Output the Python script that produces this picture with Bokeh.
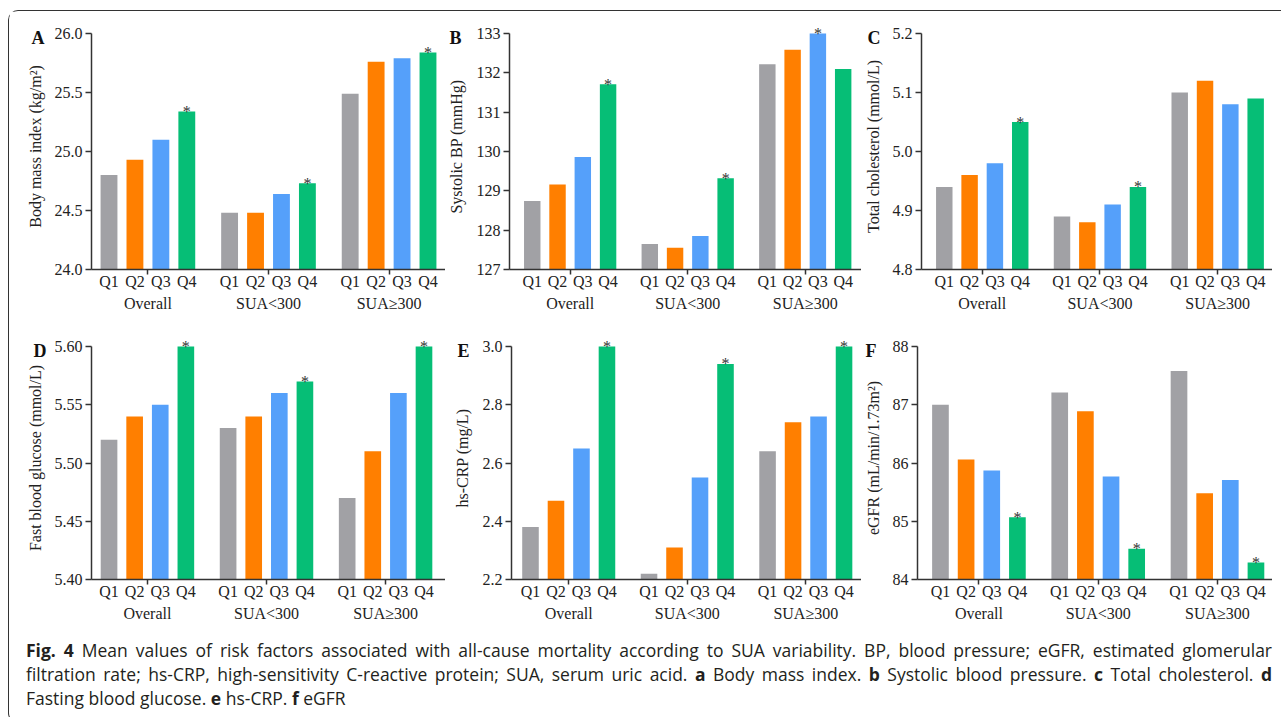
from bokeh.plotting import figure
from bokeh.layouts import column, row
from bokeh.models import (Range1d, FixedTicker, LinearAxis, LabelSet,
                          ColumnDataSource, NumeralTickFormatter, Div)
from bokeh.embed import file_html
from bokeh.resources import INLINE

# ---------------- data ----------------
groups = ["Overall", "SUA<300", "SUA\u2265300"]
quartiles = ["Q1", "Q2", "Q3", "Q4"]
colors = ["#A1A1A5", "#FF7F00", "#55A0FA", "#06BE76"]

# values in order: Overall Q1..Q4, SUA<300 Q1..Q4, SUA>=300 Q1..Q4
bmi = [24.80, 24.93, 25.10, 25.34, 24.48, 24.48, 24.64, 24.73, 25.49, 25.76, 25.79, 25.84]
sbp = [128.74, 129.16, 129.86, 131.71, 127.65, 127.55, 127.85, 129.32, 132.22, 132.59, 133.00, 132.10]
tc = [4.94, 4.96, 4.98, 5.05, 4.89, 4.88, 4.91, 4.94, 5.10, 5.12, 5.08, 5.09]
fbg = [5.52, 5.54, 5.55, 5.60, 5.53, 5.54, 5.56, 5.57, 5.47, 5.51, 5.56, 5.60]
crp = [2.38, 2.47, 2.65, 3.00, 2.22, 2.31, 2.55, 2.94, 2.64, 2.74, 2.76, 3.00]
egfr = [87.00, 86.06, 85.87, 85.07, 87.21, 86.89, 85.77, 84.53, 87.58, 85.48, 85.71, 84.29]

# significance markers (1 = asterisk)
bmi_star = [0, 0, 0, 1, 0, 0, 0, 1, 0, 0, 0, 1]
sbp_star = [0, 0, 0, 1, 0, 0, 0, 1, 0, 0, 1, 0]
tc_star = [0, 0, 0, 1, 0, 0, 0, 1, 0, 0, 0, 0]
fbg_star = [0, 0, 0, 1, 0, 0, 0, 1, 0, 0, 0, 1]
crp_star = [0, 0, 0, 1, 0, 0, 0, 1, 0, 0, 0, 1]
egfr_star = [0, 0, 0, 1, 0, 0, 0, 1, 0, 0, 0, 1]

bmi_ticks = [24.0, 24.5, 25.0, 25.5, 26.0]
sbp_ticks = [127, 128, 129, 130, 131, 132, 133]
tc_ticks = [4.8, 4.9, 5.0, 5.1, 5.2]
fbg_ticks = [5.40, 5.45, 5.50, 5.55, 5.60]
crp_ticks = [2.2, 2.4, 2.6, 2.8, 3.0]
egfr_ticks = [84, 85, 86, 87, 88]

# ---------------- layout helpers ----------------
SERIF = "Liberation Serif"
INK = "#222222"
AXC = "#333333"
PITCH = 20      # distance between bars in a group (x units)
STRIDE = 93     # distance between groups (x units)
BAR_W = 13
HEAD = 10       # px of headroom above the top tick (for asterisks)

xs = [g * STRIDE + q * PITCH for g in range(len(groups)) for q in range(len(quartiles))]
qlabels = [quartiles[q] for g in range(len(groups)) for q in range(len(quartiles))]
bar_colors = [colors[q] for g in range(len(groups)) for q in range(len(quartiles))]
centres = [g * STRIDE + 1.5 * PITCH for g in range(len(groups))]


def panel(letter, ylabel, vals, stars, ticks, fmt, width, height, mbl, mbt, mbb,
          frame_h, xr, letter_gap, letter_w):
    y0, y1 = ticks[0], ticks[-1]
    span_px = frame_h - HEAD
    y_top = y1 + (y1 - y0) * HEAD / span_px
    p = figure(width=width, height=height, output_backend="svg", toolbar_location=None,
               x_range=Range1d(xr[0], xr[1]), y_range=Range1d(y0, y_top),
               min_border_left=mbl, min_border_right=0, min_border_top=mbt,
               min_border_bottom=mbb, background_fill_color="white",
               border_fill_color="white")
    p.outline_line_color = None
    p.grid.visible = False

    src = ColumnDataSource(dict(x=xs, top=vals, color=bar_colors))
    p.vbar(x="x", top="top", bottom=y0, width=BAR_W, color="color", source=src,
           line_color=None)

    sx = [x for x, s in zip(xs, stars) if s]
    sy = [v for v, s in zip(vals, stars) if s]
    ssrc = ColumnDataSource(dict(x=sx, y=sy, t=["*"] * len(sx)))
    p.add_layout(LabelSet(x="x", y="y", text="t", source=ssrc, text_align="center",
                          text_baseline="middle", text_font=SERIF,
                          text_font_size="16px", text_color="#333333"))

    # main y axis: ticks and numbers
    ya = p.yaxis[0]
    ya.bounds = (y0, y1)
    ya.ticker = FixedTicker(ticks=ticks)
    ya.formatter = NumeralTickFormatter(format=fmt)
    ya.major_label_text_font = SERIF
    ya.major_label_text_font_size = "16px"
    ya.major_label_text_color = INK
    ya.major_label_standoff = 3
    ya.major_tick_out = 6
    ya.major_tick_in = 0
    ya.minor_tick_line_color = None
    ya.axis_line_color = AXC
    ya.axis_line_width = 1.5
    ya.major_tick_line_color = AXC
    ya.major_tick_line_width = 1.5

    # outer left axis: panel letter (as the one tick label) and the axis title
    y_letter = y1 - (y1 - y0) * 4 / span_px
    la = LinearAxis(ticker=FixedTicker(ticks=[y_letter]),
                    major_label_overrides={y_letter: letter})
    la.axis_line_color = None
    la.major_tick_line_color = None
    la.minor_tick_line_color = None
    la.major_tick_out = 0
    la.major_tick_in = 0
    la.minor_tick_out = 0
    la.major_label_standoff = letter_gap
    la.major_label_text_font = SERIF
    la.major_label_text_font_style = "bold"
    la.major_label_text_font_size = "18px"
    la.major_label_text_color = "#111111"
    la.axis_label = ylabel
    la.axis_label_text_font = SERIF
    la.axis_label_text_font_style = "normal"
    la.axis_label_text_font_size = "16px"
    la.axis_label_text_color = INK
    la.axis_label_standoff = 5 - letter_gap - letter_w
    p.add_layout(la, "left")

    # x axis: quartile labels with group ticks
    xa = p.xaxis[0]
    xa.ticker = FixedTicker(ticks=xs, minor_ticks=centres)
    xa.major_label_overrides = {x: q for x, q in zip(xs, qlabels)}
    xa.major_tick_out = 0
    xa.major_tick_in = 0
    xa.major_tick_line_color = None
    xa.minor_tick_out = 5
    xa.minor_tick_in = 0
    xa.minor_tick_line_color = AXC
    xa.minor_tick_line_width = 1.5
    xa.axis_line_color = AXC
    xa.axis_line_width = 1.5
    xa.major_label_standoff = -2
    xa.major_label_text_font = SERIF
    xa.major_label_text_font_size = "16px"
    xa.major_label_text_color = INK

    # group names axis
    ga = LinearAxis(ticker=FixedTicker(ticks=centres),
                    major_label_overrides={c: g for c, g in zip(centres, groups)})
    ga.axis_line_color = None
    ga.major_tick_line_color = None
    ga.minor_tick_line_color = None
    ga.major_tick_out = 0
    ga.major_tick_in = 0
    ga.minor_tick_out = 0
    ga.major_label_standoff = 2
    ga.major_label_text_font = SERIF
    ga.major_label_text_font_size = "16px"
    ga.major_label_text_color = INK
    p.add_layout(ga, "below")
    return p


H1, H2 = 311, 305
F1, F2 = 246, 243
pa = panel("A", "Body mass index (kg/m\u00b2)", bmi, bmi_star, bmi_ticks, "0.0",
           436, H1, 82, 12, H1 - 12 - F1, F1, (-13.5, 259.5), 7, 13)
pb = panel("B", "Systolic BP (mmHg)", sbp, sbp_star, sbp_ticks, "0",
           416, H1, 60, 12, H1 - 12 - F1, F1, (-18.0, 260.5), 12, 12)
pc = panel("C", "Total cholesterol (mmol/L)", tc, tc_star, tc_ticks, "0.0",
           411, H1, 56, 12, H1 - 12 - F1, F1, (-18.0, 259.3), 9, 13)
pd = panel("D", "Fast blood glucose (mmol/L)", fbg, fbg_star, fbg_ticks, "0.00",
           436, H2, 82, 14, H2 - 14 - F2, F2, (-13.7, 262.8), 5, 13)
pe = panel("E", "hs-CRP (mg/L)", crp, crp_star, crp_ticks, "0.0",
           416, H2, 66, 14, H2 - 14 - F2, F2, (-14.9, 259.7), 10, 12)
pf = panel("F", "eGFR (mL/min/1.73m\u00b2)", egfr, egfr_star, egfr_ticks, "0",
           411, H2, 56, 14, H2 - 14 - F2, F2, (-17.9, 258.9), 13, 11)

line1 = ("<b>Fig. 4</b> Mean values of risk factors associated with all-cause mortality "
         "according to SUA variability. BP, blood pressure; eGFR, estimated glomerular")
line2 = ("filtration rate; hs-CRP, high-sensitivity C-reactive protein; SUA, serum uric acid. "
         "<b>a</b> Body mass index. <b>b</b> Systolic blood pressure. <b>c</b> Total "
         "cholesterol. <b>d</b>")
line3 = "Fasting blood glucose. <b>e</b> hs-CRP. <b>f</b> eGFR"

cap_style = ("font-family:'Open Sans',sans-serif;font-size:17.5px;line-height:24px;"
             "color:#231f20;white-space:nowrap;")
html = (f'<div style="margin:6px 0 0 12px;width:1246px;{cap_style}">'
        f'<div style="text-align:justify;text-align-last:justify;">{line1}</div>'
        f'<div style="text-align:justify;text-align-last:justify;">{line2}</div>'
        f'<div style="text-align:left;">{line3}</div></div>')
caption = Div(text=html, width=1263, height=85)

layout = column(row(pa, pb, pc), row(pd, pe, pf), caption,
                styles={"margin-left": "8px", "margin-top": "10px",
                        "border-top": "1.5px solid #333", "border-left": "1.5px solid #333",
                        "border-bottom": "1.5px solid #333", "border-right": "none",
                        "border-radius": "10px 0 0 10px", "background": "white"})

open("out.html", "w").write(file_html(layout, INLINE))
